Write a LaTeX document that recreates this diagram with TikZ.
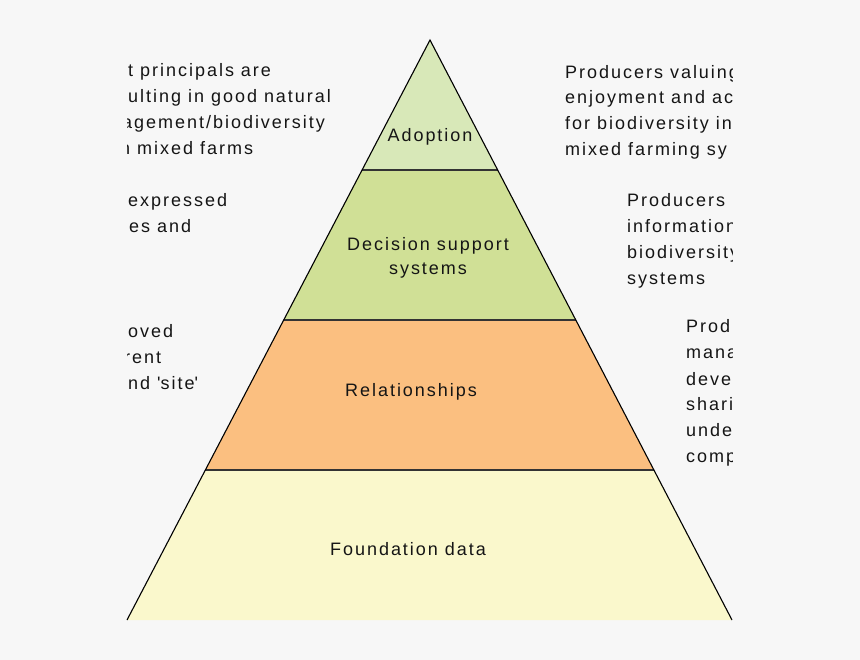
\documentclass[tikz,border=0pt]{standalone}
\usepackage{fontspec}
\setmainfont{Liberation Sans}[LetterSpace=11]
\usetikzlibrary{calc}
\definecolor{bgcol}{HTML}{F7F7F7}
\definecolor{adoptcol}{HTML}{D8E8B8}
\definecolor{dsscol}{HTML}{D0E096}
\definecolor{relcol}{HTML}{FBBF80}
\definecolor{foundcol}{HTML}{FAF8CC}
\definecolor{inkcol}{HTML}{151515}

\begin{document}
\begin{tikzpicture}[x=1pt, y=-1pt,
  every node/.style={font=\fontsize{18}{24}\selectfont, text=inkcol, inner sep=0pt},
  edge/.style={black, line width=1.1pt},
  divider/.style={black!80, line width=1.1pt},
  level/.style={align=center, anchor=base},
  note/.style={anchor=base west}]
\fill[bgcol] (0,0) rectangle (860,660);
\useasboundingbox (0,0) rectangle (860,660);
% pyramid corners and level borders
\coordinate (apex) at (430,40);
\coordinate (bl) at (127,620);
\coordinate (br) at (732,620);
\foreach \n/\t in {a/0.2241, b/0.4828, c/0.7414} {
  \coordinate (l\n) at ($(apex)!\t!(bl)$);
  \coordinate (r\n) at ($(apex)!\t!(br)$);
}
\fill[foundcol] (lc) -- (rc) -- (br) -- (bl) -- cycle;
\fill[relcol] (lb) -- (rb) -- (rc) -- (lc) -- cycle;
\fill[dsscol] (la) -- (ra) -- (rb) -- (lb) -- cycle;
\fill[adoptcol] (apex) -- (ra) -- (la) -- cycle;
\foreach \n in {a,b,c} \draw[divider] (l\n) -- (r\n);
\draw[edge] (bl) -- (apex) -- (br);
% level names
\node[level] (adoption) at (430,142) {Adoption};
\node[level] (dss) at (428,275) {Decision support\\systems};
\node[level] (relations) at (411,397) {Relationships};
\node[level] (foundation) at (408,555) {Foundation data};
% side notes, cut off at the picture edges
\begin{scope}
\clip (127,0) rectangle (732,660);
\foreach \y/\x/\txt in {77/128/t principals are, 103/128/ulting in good natural,
    129/122/{agement/biodiversity}, 155/120/n mixed farms,
    207/128/expressed, 233/129/es and,
    338/128/oved, 364/124/rent, 390/128/{nd \textquotesingle site\textquotesingle}}
  \node[note] (left-\y) at (\x,\y) {\txt};
\foreach \y/\x/\txt in {79/565/Producers valuing, 104/565/enjoyment and ac,
    130/565/for biodiversity in, 156/565/mixed farming sy,
    207/627/Producers, 233/627/information, 259/627/biodiversity, 285/627/systems,
    333/686/Prod, 359/686/manag, 385/686/devel, 410/686/sharin, 436/686/under, 462/686/compl}
  \node[note] (right-\y) at (\x,\y) {\txt};
\end{scope}
\end{tikzpicture}
\end{document}
